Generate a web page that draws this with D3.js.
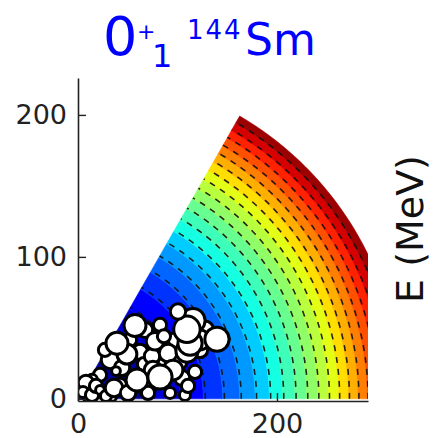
<!DOCTYPE html>
<html>
<head>
<meta charset="utf-8">
<script src="https://cdn.jsdelivr.net/npm/d3@7"></script>
<style>
  html, body { margin: 0; padding: 0; background: #fff; }
  svg { display: block; }
</style>
</head>
<body>
<svg id="chart" width="442" height="438"></svg>
<script>
// Potential-energy surface levels (MeV), one filled band between each pair
const energyLevels = [0, 2, 4, 6, 8, 10, 12, 14, 16, 18, 20, 22, 24, 26, 28, 30, 32, 34, 36, 38, 40];

// Surface extent: full deformation along each axis and the opening angle (deg)
const surfaceReachX = 325;
const surfaceReachY = 230;
const surfaceAngle = 60;

// Sampled configurations (x, y) and their weights
const pointX = [32.2, 44.2, 62.3, 69.3, 87.4, 100.5, 104.5, 117.6, 122.6, 98.5,
                67.3, 22.1, 14.1, 42.2, 27.1, 82.4, 127.6, 122.6, 107.5, 52.3,
                10.1, 2.0, 34.2,
                8.0, 5.0, 14.1, 18.1, 22.1, 28.1, 36.2, 50.3, 70.4, 92.5,
                38.2, 66.3, 74.4, 90.5, 75.4, 95.5, 59.3, 82.4, 110.6,
                109.5, 112.6, 49.2, 39.2, 77.4, 86.4, 57.3,
                115.6, 109.5, 100.5, 139.7];
const pointY = [27.5, 21.8, 33.1, 7.7, 23.9, 26.1, 14.8, 19.0, 34.5, 41.5,
                48.6, 16.9, 13.4, 9.9, 34.5, 52.1, 48.6, 41.5, 2.8, 41.5,
                0.6, 7.7, 1.4,
                11.2, 4.9, 2.8, 9.1, 6.3, 2.1, 7.7, 4.2, 4.2, 4.2,
                19.6, 24.5, 30.1, 32.2, 20.3, 20.3, 13.3, 15.4, 9.1,
                33.6, 39.2, 31.5, 39.2, 40.6, 44.1, 51.7,
                55.2, 49.0, 61.5, 42.0];
const pointWeight = [0.64, 0.49, 0.49, 0.64, 0.49, 0.64, 0.49, 0.36, 0.49, 0.49,
                     0.49, 0.36, 0.25, 0.36, 0.36, 0.36, 0.64, 0.81, 0.25, 0.36,
                     0.16, 0.16, 0.16,
                     0.49, 0.25, 0.36, 0.36, 0.16, 0.25, 0.64, 0.49, 0.36, 0.25,
                     0.16, 0.36, 0.49, 0.64, 0.64, 0.81, 1.00, 1.21, 0.36,
                     1.00, 1.21, 0.81, 1.00, 0.64, 0.36, 1.00,
                     1.21, 1.44, 0.49, 1.21];

// Axis ticks
const xTicks = [0, 200];
const yTicks = [0, 100, 200];

const svg = d3.select("#chart");

const x = d3.scaleLinear().domain([0, 291.5]).range([78, 368]);
const y = d3.scaleLinear().domain([-1.5, 226]).range([401, 78]);
const radius = d3.scaleSqrt().domain([0, 1.44]).range([0, 13.2]);

const eMin = energyLevels[0];
const eMax = energyLevels[energyLevels.length - 1];

// matplotlib "jet" colormap
function jet(t) {
  const seg = (pts) => {
    for (let i = 1; i < pts.length; i++) {
      if (t <= pts[i][0]) {
        const [t0, v0] = pts[i - 1], [t1, v1] = pts[i];
        return v0 + (v1 - v0) * (t - t0) / (t1 - t0);
      }
    }
    return pts[pts.length - 1][1];
  };
  const r = seg([[0, 0], [0.35, 0], [0.66, 1], [0.89, 1], [1, 0.5]]);
  const g = seg([[0, 0], [0.125, 0], [0.375, 1], [0.64, 1], [0.91, 0], [1, 0]]);
  const b = seg([[0, 0.5], [0.11, 1], [0.34, 1], [0.65, 0], [1, 0]]);
  return d3.rgb(r * 255, g * 255, b * 255).toString();
}

// Point of the surface at a given energy and angle (deg)
function surfacePoint(energy, angleDeg) {
  const rho = Math.sqrt((energy - eMin) / (eMax - eMin));
  const a = angleDeg * Math.PI / 180;
  return [surfaceReachX * rho * Math.cos(a), surfaceReachY * rho * Math.sin(a)];
}

const angles = d3.range(0, surfaceAngle + 0.001, surfaceAngle / 90);
const toPx = (p) => [x(p[0]), y(p[1])];

svg.append("defs").append("clipPath").attr("id", "plotArea")
  .append("rect")
  .attr("x", x(0)).attr("y", y.range()[1])
  .attr("width", x.range()[1] - x(0))
  .attr("height", y.range()[0] - y.range()[1]);

const plot = svg.append("g").attr("clip-path", "url(#plotArea)");

// Filled energy bands
const bands = d3.pairs(energyLevels);
const bandColor = ([lo, hi]) => jet(((lo + hi) / 2 - eMin) / (eMax - eMin));
plot.append("g").selectAll("path")
  .data(bands)
  .join("path")
  .attr("d", ([lo, hi]) => {
    const outer = angles.map(a => toPx(surfacePoint(hi, a)));
    const inner = angles.slice().reverse().map(a => toPx(surfacePoint(lo, a)));
    return d3.line()(outer.concat(inner)) + "Z";
  })
  .attr("fill", bandColor)
  .attr("stroke", bandColor)
  .attr("stroke-width", 0.6);

// Dashed contour lines
plot.append("g").selectAll("path")
  .data(energyLevels.slice(1, -1))
  .join("path")
  .attr("d", e => d3.line()(angles.map(a => toPx(surfacePoint(e + 0.2, a)))))
  .attr("fill", "none")
  .attr("stroke", "#111")
  .attr("stroke-opacity", 0.9)
  .attr("stroke-width", 1.6)
  .attr("stroke-dasharray", "6,6");

// Sampled configurations
plot.append("g").selectAll("circle")
  .data(pointX.map((v, i) => ({ x: v, y: pointY[i], w: pointWeight[i] })))
  .join("circle")
  .attr("cx", d => x(d.x))
  .attr("cy", d => y(d.y))
  .attr("r", d => radius(d.w))
  .attr("fill", "#fff")
  .attr("stroke", "#000")
  .attr("stroke-width", 3);

// Axes
const tickFont = "'DejaVu Sans', sans-serif";
const yAxis = svg.append("g")
  .attr("transform", `translate(${x(0)},0)`)
  .call(d3.axisLeft(y).tickValues(yTicks).tickFormat(d3.format("d"))
    .tickSize(-8).tickSizeOuter(0).tickPadding(11));
const xAxis = svg.append("g")
  .attr("transform", `translate(0,${y.range()[0]})`)
  .call(d3.axisBottom(x).tickValues(xTicks).tickFormat(d3.format("d"))
    .tickSize(-8).tickSizeOuter(0).tickPadding(13));

[xAxis, yAxis].forEach(g => {
  g.select(".domain").attr("stroke", "#222").attr("stroke-width", 1.6);
  g.selectAll(".tick line").attr("stroke", "#222").attr("stroke-width", 1.4);
  g.selectAll(".tick text")
    .attr("fill", "#222")
    .style("font-family", tickFont)
    .style("font-size", "27px");
});

// Energy label
svg.append("text")
  .attr("transform", "translate(423,229) rotate(-90)")
  .attr("text-anchor", "middle")
  .style("font-family", tickFont)
  .style("font-size", "38px")
  .attr("fill", "#111")
  .text("E (MeV)");

// Title: 0+1 144Sm
const title = svg.append("g")
  .attr("fill", "#0000ff")
  .style("font-family", "'Comic Sans MS', 'DejaVu Sans', sans-serif");
title.append("text").attr("x", 103).attr("y", 55).style("font-size", "54px").text("0");
title.append("text").attr("x", 137).attr("y", 39).style("font-size", "22px").text("+");
title.append("text").attr("x", 152).attr("y", 67).style("font-size", "32px").text("1");
title.append("text").attr("x", 187).attr("y", 39).style("font-size", "26px")
  .attr("letter-spacing", "2px").text("144");
title.append("text").attr("x", 245).attr("y", 55).style("font-size", "44px").text("Sm");
</script>
</body>
</html>
